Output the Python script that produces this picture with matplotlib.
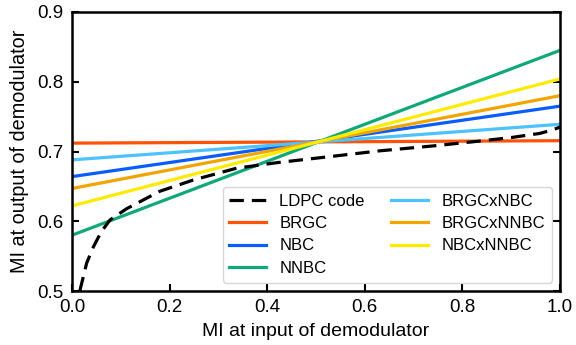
import matplotlib
matplotlib.use("Agg")
import matplotlib.pyplot as plt
import numpy as np

plt.rcParams['font.family'] = ['Liberation Sans', 'DejaVu Sans']

# LDPC code curve points
ldpc_x = [0.016, 0.03, 0.044, 0.06, 0.078, 0.112, 0.18, 0.248, 0.337, 0.42, 0.52, 0.631, 0.74, 0.836, 0.9, 0.959, 0.985, 1.0]
ldpc_y = [0.5, 0.54, 0.5635, 0.585, 0.602, 0.618, 0.643, 0.659, 0.676, 0.684, 0.692, 0.701, 0.708, 0.715, 0.72, 0.726, 0.731, 0.735]

labels = ["BRGC", "NBC", "NNBC", "BRGCxNBC", "BRGCxNNBC", "NBCxNNBC"]
start_vals = [0.712, 0.664, 0.580, 0.688, 0.647, 0.622]
end_vals = [0.7155, 0.765, 0.845, 0.739, 0.780, 0.804]
colors = ["#ff5208", "#0a5cff", "#10a878", "#4cc2ff", "#f2a500", "#ffea00"]

fig = plt.figure(figsize=(5.76, 3.45), dpi=100)
ax = fig.add_axes([72/576, 1-291/345, 488/576, 279/345])

ax.plot(ldpc_x, ldpc_y, color="black", linestyle=(0, (4.5, 2.5)), lw=2.3, label="LDPC code", zorder=5)
for lab, s, e, c in zip(labels, start_vals, end_vals, colors):
    ax.plot([0, 1], [s, e], color=c, lw=2.3, label=lab)

ax.set_xlim(0, 1)
ax.set_ylim(0.5, 0.9)
ax.set_xticks([0, 0.2, 0.4, 0.6, 0.8, 1.0])
ax.set_yticks([0.5, 0.6, 0.7, 0.8, 0.9])
ax.tick_params(direction="in", length=5, width=1.5, labelsize=13.5, right=True, top=False, pad=6)
for sp in ax.spines.values():
    sp.set_linewidth(1.8)
ax.set_xlabel("MI at input of demodulator", fontsize=14, labelpad=5)
ax.set_ylabel("MI at output of demodulator", fontsize=14.3, labelpad=6)

h, l = ax.get_legend_handles_labels()
ax.legend(h, l, ncol=2, loc="lower right", fontsize=12, frameon=True,
          handlelength=2.2, columnspacing=1.6, labelspacing=0.45, borderaxespad=0.5)

fig.savefig("out.png", dpi=100)
